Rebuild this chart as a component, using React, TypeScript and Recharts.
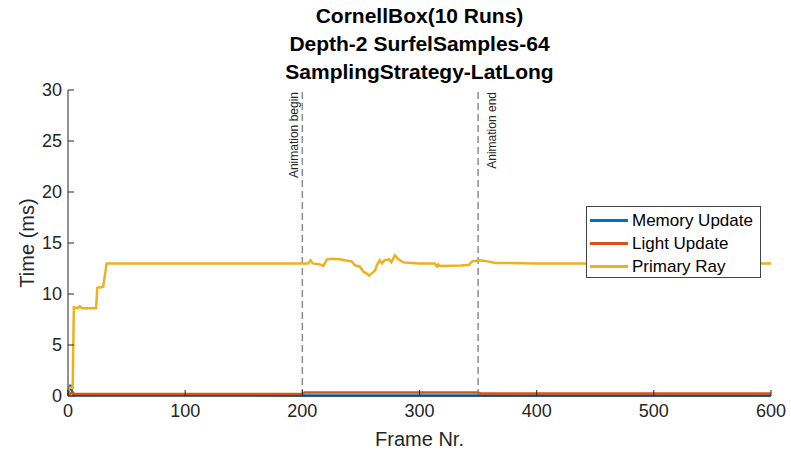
import { LineChart, Line, XAxis, YAxis, ReferenceLine } from "recharts";

const xTicks = [0, 100, 200, 300, 400, 500, 600];
const yTicks = [0, 5, 10, 15, 20, 25, 30];

// Primary Ray
const primaryFrames = [0, 1, 4, 5, 8, 10, 12, 24, 25, 30, 33, 60, 100, 150, 200, 205, 207, 209, 215, 218, 221, 225, 232, 236, 242, 245, 249, 252, 255, 257, 260, 262, 264, 266, 268, 270, 274, 276, 279, 282, 286, 293, 300, 313, 315, 316, 317, 335, 342, 345, 352, 358, 365, 400, 500, 600];
const primaryTimes = [0.3, 0.8, 0.8, 8.7, 8.6, 8.8, 8.6, 8.6, 10.6, 10.7, 13.0, 13.0, 13.0, 12.98, 13.0, 13.0, 13.3, 13.0, 12.9, 12.75, 13.4, 13.45, 13.4, 13.3, 13.2, 12.8, 12.7, 12.2, 12.0, 11.8, 12.1, 12.3, 12.9, 13.3, 13.0, 13.3, 13.4, 13.1, 13.8, 13.4, 13.1, 13.05, 13.0, 13.0, 12.7, 12.9, 12.75, 12.8, 12.85, 13.2, 13.3, 13.2, 13.05, 13.0, 13.0, 13.0];

// Light Update
const lightFrames = [0, 3, 6, 200, 202, 350, 352, 600];
const lightTimes = [0.1, 0.3, 0.2, 0.2, 0.35, 0.35, 0.25, 0.25];

// Memory Update
const memoryFrames = [0, 2, 3, 5, 200, 600];
const memoryTimes = [0.2, 1.1, 0.6, 0.08, 0.06, 0.05];

const events = [
  { frame: 200, label: "Animation begin", side: "left" },
  { frame: 350, label: "Animation end", side: "right" },
];

const toRows = (frames: number[], vals: number[]) => frames.map((f, i) => ({ frame: f, t: vals[i] }));
const primaryData = toRows(primaryFrames, primaryTimes);
const lightData = toRows(lightFrames, lightTimes);
const memoryData = toRows(memoryFrames, memoryTimes);

const FONT = "'Liberation Sans', Arial, sans-serif";
const AXIS = "#262626";

const series = [
  { name: "Memory Update", color: "#0072BD" },
  { name: "Light Update", color: "#D95319" },
  { name: "Primary Ray", color: "#EDB120" },
];

function LegendBox() {
  return (
    <div style={{ position: "absolute", left: 586, top: 206, width: 175, height: 72, boxSizing: "border-box", border: "1px solid #444", background: "#fff", padding: "2px 0 0 3px", fontFamily: FONT, fontSize: 17, color: "#000" }}>
      {series.map((s) => (
        <div key={s.name} style={{ display: "flex", alignItems: "center", height: 23 }}>
          <div style={{ width: 38, height: 2.5, background: s.color, marginRight: 4 }} />
          <span>{s.name}</span>
        </div>
      ))}
    </div>
  );
}

const eventLabel = (text: string, side: string) => (props: any) => {
  const { x, y } = props.viewBox;
  const tx = side === "left" ? x - 4 : x + 18;
  return (
    <text x={tx} y={y + 2} transform={`rotate(-90 ${tx} ${y + 2})`} textAnchor="end" fontSize={12} fontFamily={FONT} fill="#262626">
      {text}
    </text>
  );
};

export default function App() {
  return (
    <div style={{ position: "absolute", left: 0, top: 0, width: 791, height: 459, background: "#fff", fontFamily: FONT }}>
      <div style={{ position: "absolute", left: 68, width: 703, top: 2, textAlign: "center", fontWeight: "bold", fontSize: 21, lineHeight: "28px", color: "#000" }}>
        <div>CornellBox(10 Runs)</div>
        <div>Depth-2 SurfelSamples-64</div>
        <div>SamplingStrategy-LatLong</div>
      </div>
      <div style={{ position: "absolute", left: 68, width: 703, top: 428, textAlign: "center", fontSize: 20, color: AXIS }}>Frame Nr.</div>
      <div style={{ position: "absolute", left: 27, top: 243, transform: "translate(-50%, -50%) rotate(-90deg)", fontSize: 20, color: AXIS, whiteSpace: "nowrap" }}>Time (ms)</div>
      <LineChart width={791} height={459} margin={{ top: 90, right: 20, bottom: 0, left: 0 }}>
        <XAxis
          xAxisId={0}
          dataKey="frame"
          type="number"
          domain={[0, 600]}
          ticks={xTicks}
          allowDuplicatedCategory={false}
          height={63}
          tickSize={-6}
          tickMargin={14}
          stroke={AXIS}
          tick={{ fill: AXIS, fontSize: 18, fontFamily: FONT }}
        />
        <XAxis xAxisId="top" orientation="top" dataKey="frame" type="number" domain={[0, 600]} ticks={xTicks} height={0} tickSize={-6} tick={false} stroke={AXIS} />
        <YAxis
          yAxisId={0}
          type="number"
          domain={[0, 30]}
          ticks={yTicks}
          width={68}
          tickSize={-6}
          tickMargin={12}
          stroke={AXIS}
          tick={{ fill: AXIS, fontSize: 18, fontFamily: FONT }}
        />
        <YAxis yAxisId="right" orientation="right" type="number" domain={[0, 30]} ticks={yTicks} width={0} tickSize={-6} tick={false} stroke={AXIS} />
        {events.map((e) => (
          <ReferenceLine key={e.label} x={e.frame} stroke="#8c8c8c" strokeWidth={1.5} strokeDasharray="7 4" label={eventLabel(e.label, e.side)} />
        ))}
        <Line data={memoryData} dataKey="t" name="Memory Update" stroke="#0072BD" strokeWidth={2.5} dot={false} type="linear" isAnimationActive={false} />
        <Line data={lightData} dataKey="t" name="Light Update" stroke="#D95319" strokeWidth={2.5} dot={false} type="linear" isAnimationActive={false} />
        <Line data={primaryData} dataKey="t" name="Primary Ray" stroke="#EDB120" strokeWidth={2.5} dot={false} type="linear" isAnimationActive={false} />
      </LineChart>
      <LegendBox />
    </div>
  );
}
